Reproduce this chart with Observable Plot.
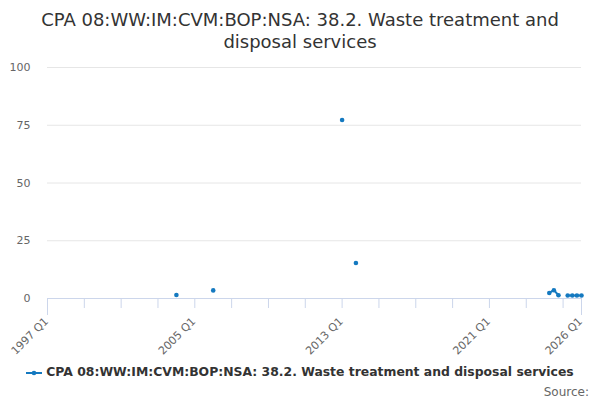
<!DOCTYPE html>
<html>
<head>
<meta charset="utf-8">
<script src="https://cdn.jsdelivr.net/npm/d3@7"></script>
<script src="https://cdn.jsdelivr.net/npm/@observablehq/plot@0.6"></script>
<style>
  body { margin: 0; background: #fff; font-family: "DejaVu Sans", sans-serif; }
  #wrap { position: relative; width: 600px; height: 400px; overflow: hidden; }
  #title { height: 55px; text-align: center; font-size: 18px; color: #333; line-height: 22px; padding-top: 9px; box-sizing: border-box; }
  #chart { position: absolute; top: 55px; left: 0; }
  #legend { position: absolute; top: 364px; left: 0; width: 600px; text-align: center; font-size: 12.4px; font-weight: bold; color: #333; white-space: nowrap; }
  #legend svg { vertical-align: middle; margin-right: 4px; }
  #source { position: absolute; top: 385px; right: 11px; font-size: 12px; color: #666; }
  #chart svg { display: block; }
</style>
</head>
<body>
<div id="wrap">
  <div id="title">CPA 08:WW:IM:CVM:BOP:NSA: 38.2. Waste treatment and<br>disposal services</div>
  <div id="chart"></div>
  <div id="legend"><svg width="16" height="10"><line x1="0" y1="5" x2="16" y2="5" stroke="#1479c0" stroke-width="2"/><circle cx="8" cy="5" r="2.3" fill="#1479c0"/></svg>CPA 08:WW:IM:CVM:BOP:NSA: 38.2. Waste treatment and disposal services</div>
  <div id="source">Source:</div>
</div>
<script>
const seriesName = "CPA 08:WW:IM:CVM:BOP:NSA: 38.2. Waste treatment and disposal services";
const quarters = ["2004 Q1","2006 Q1","2013 Q1","2013 Q4","2024 Q2","2024 Q3","2024 Q4","2025 Q2","2025 Q3","2025 Q4","2026 Q1"];
const values   = [1.5, 3.5, 77.3, 15.4, 2.4, 3.6, 1.4, 1.3, 1.3, 1.3, 1.3];
const firstQuarter = "1997 Q1";
const lastQuarter = "2026 Q1";
const xTickLabels = ["1997 Q1","2005 Q1","2013 Q1","2021 Q1","2026 Q1"];
const yTicks = [0, 25, 50, 75, 100];

const qIndex = q => { const [y, qq] = q.split(" Q"); return (+y - 1997) * 4 + (+qq - 1); };
const qLabel = i => `${1997 + Math.floor(i / 4)} Q${(i % 4) + 1}`;

const lookup = new Map(quarters.map((q, i) => [q, values[i]]));
const i0 = qIndex(firstQuarter), i1 = qIndex(lastQuarter);
const full = d3.range(i0, i1 + 1).map(i => ({i, v: lookup.has(qLabel(i)) ? lookup.get(qLabel(i)) : NaN}));
const pts = quarters.map((q, k) => ({i: qIndex(q), v: values[k]}));

const innerTicks = d3.range(i0 + 8, i1, 8);
const endTicks = [i0, i1];
const labels = xTickLabels.map(q => ({i: qIndex(q), t: q}));

const color = "#1479c0";
const chart = Plot.plot({
  width: 600,
  height: 300,
  marginTop: 12,
  marginBottom: 57,
  marginLeft: 47,
  marginRight: 19,
  style: {fontFamily: "DejaVu Sans, sans-serif", fontSize: "11px", color: "#666", overflow: "visible"},
  x: {domain: [i0, i1], label: null},
  y: {domain: [0, 100], label: null},
  marks: [
    Plot.gridY(yTicks, {stroke: "#e6e6e6", strokeOpacity: 1}),
    Plot.axisY(yTicks, {tickSize: 0, tickPadding: 17, fill: "#666", fontSize: 11, label: null}),
    Plot.ruleY([0], {stroke: "#ccd6eb"}),
    Plot.axisX(innerTicks, {tickSize: 10, stroke: "#ccd6eb", strokeOpacity: 1, tickFormat: () => "", label: null}),
    Plot.axisX(endTicks, {tickSize: 17, stroke: "#ccd6eb", strokeOpacity: 1, tickFormat: () => "", label: null}),
    Plot.text(labels, {x: "i", y: () => 0, text: "t", rotate: -45, textAnchor: "end", lineAnchor: "middle",
      dx: -1, dy: 21, fill: "#666", fontSize: 11}),
    Plot.line(full, {x: "i", y: "v", stroke: color, strokeWidth: 2}),
    Plot.dot(pts, {x: "i", y: "v", r: 2.3, fill: color})
  ]
});
document.getElementById("chart").appendChild(chart);
</script>
</body>
</html>
